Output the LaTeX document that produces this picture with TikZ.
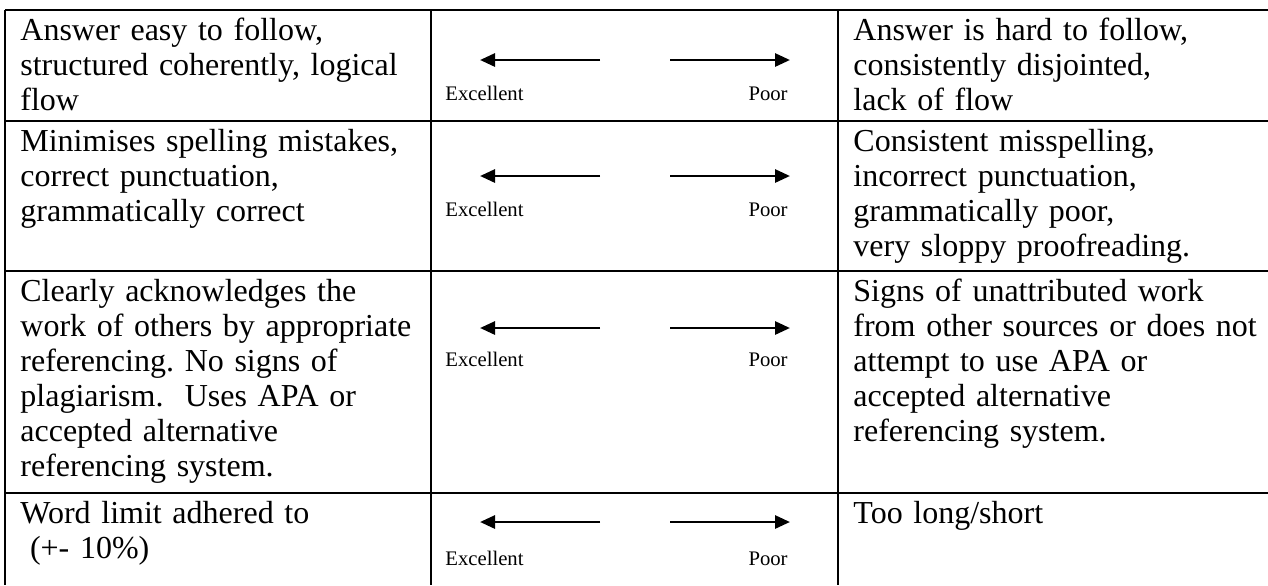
\documentclass[tikz,border=0pt]{standalone}
\usepackage{fontspec}
\setmainfont{Liberation Serif}
\usetikzlibrary{arrows.meta}
\frenchspacing

\tikzset{
  cell/.style={anchor=base west, inner sep=0pt, text width=215pt, align=left,
    font=\fontsize{16}{17.5}\selectfont},
  rate/.style={inner sep=0pt, font=\fontsize{10.35}{12}\selectfont},
  rule/.style={line width=1.3pt},
  arr/.style={line width=1.4pt, -{Triangle[length=7.5pt,width=6.5pt]}}
}

\begin{document}
\begin{tikzpicture}[x=0.5pt,y=-0.5pt]
            \useasboundingbox (0,0) rectangle (1268,585);
            % table rules
            \draw[rule] (5,10) -- (1268,10);
            \draw[rule] (5,121) -- (1268,121);
            \draw[rule] (5,271) -- (1268,271);
            \draw[rule] (5,493) -- (1268,493);
            \draw[rule] (5,10) -- (5,585);
            \draw[rule] (431,10) -- (431,585);
            \draw[rule] (838,10) -- (838,585);
            % left column
            \node[cell] (good1) at (20,40) {Answer easy to follow,\\structured coherently, logical\\flow};
            \node[cell] (good2) at (20,151) {Minimises spelling mistakes,\\correct punctuation,\\grammatically correct};
            \node[cell] (good3) at (20,301) {Clearly acknowledges the\\work of others by appropriate\\referencing. No signs of\\plagiarism.\ \ Uses APA or\\accepted alternative\\referencing system.};
            \node[cell] (good4) at (20,523) {Word limit adhered to\\\hspace*{0.3em}(+- 10\%)};
            % right column
            \node[cell] (bad1) at (853,40) {Answer is hard to follow,\\consistently disjointed,\\lack of flow};
            \node[cell] (bad2) at (853,151) {Consistent misspelling,\\incorrect punctuation,\\grammatically poor,\\very sloppy proofreading.};
            \node[cell] (bad3) at (853,301) {Signs of unattributed work\\from other sources or does not\\attempt to use APA or\\accepted alternative\\referencing system.};
            \node[cell] (bad4) at (853,523) {Too long/short};
            % middle column
            \node[rate, anchor=base west] (exc1) at (445,100) {Excellent};
            \node[rate, anchor=base east] (poor1) at (788,100) {Poor};
            \node[rate, anchor=base west] (exc2) at (445,216) {Excellent};
            \node[rate, anchor=base east] (poor2) at (788,216) {Poor};
            \node[rate, anchor=base west] (exc3) at (445,366) {Excellent};
            \node[rate, anchor=base east] (poor3) at (788,366) {Poor};
            \node[rate, anchor=base west] (exc4) at (445,565) {Excellent};
            \node[rate, anchor=base east] (poor4) at (788,565) {Poor};
            \coordinate (from1l) at (600,60);  \coordinate (to1l) at (480,60);
            \coordinate (from1r) at (670,60);  \coordinate (to1r) at (790,60);
            \coordinate (from2l) at (600,176); \coordinate (to2l) at (480,176);
            \coordinate (from2r) at (670,176); \coordinate (to2r) at (790,176);
            \coordinate (from3l) at (600,328); \coordinate (to3l) at (480,328);
            \coordinate (from3r) at (670,328); \coordinate (to3r) at (790,328);
            \coordinate (from4l) at (600,522); \coordinate (to4l) at (480,522);
            \coordinate (from4r) at (670,522); \coordinate (to4r) at (790,522);
            \draw[arr] (from1l) -- (to1l);
            \draw[arr] (from1r) -- (to1r);
            \draw[arr] (from2l) -- (to2l);
            \draw[arr] (from2r) -- (to2r);
            \draw[arr] (from3l) -- (to3l);
            \draw[arr] (from3r) -- (to3r);
            \draw[arr] (from4l) -- (to4l);
            \draw[arr] (from4r) -- (to4r);
\end{tikzpicture}
\end{document}
